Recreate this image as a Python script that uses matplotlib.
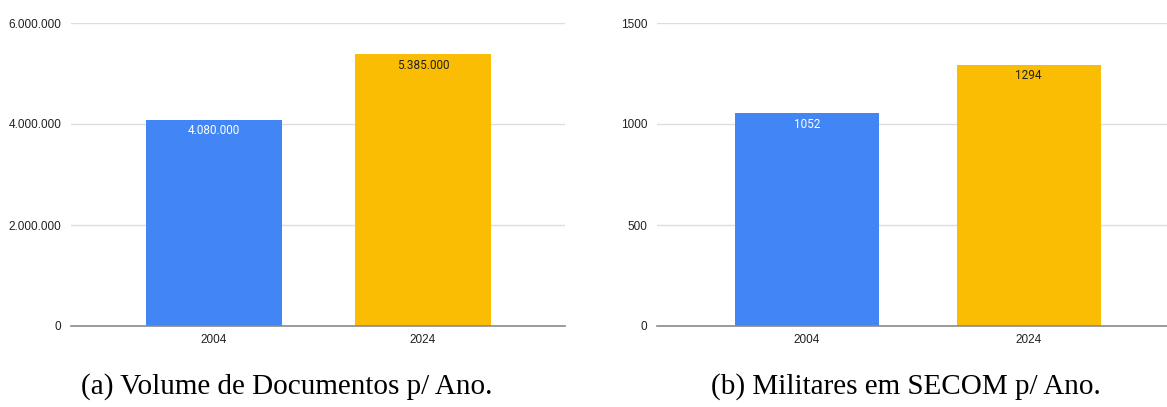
import matplotlib
matplotlib.use('Agg')
import matplotlib.pyplot as plt

# Data for both panels
anos = ['2004', '2024']
documentos = [4080000, 5385000]
militares = [1052, 1294]
cores = ['#4285F4', '#FBBC04']
cores_rotulo = ['white', '#222222']

doc_ticks = [0, 2000000, 4000000, 6000000]
mil_ticks = [0, 500, 1000, 1500]


def fmt_pt(v):
    # thousands separator with dots
    return f"{v:,}".replace(',', '.')


fig = plt.figure(figsize=(11.67, 4.07), dpi=100)
W, H = 1167, 407

# axes positions in pixels (left, right, top, bottom)
ax1 = fig.add_axes([71 / W, 1 - 326 / H, (565 - 71) / W, (326 - 23) / H])
ax2 = fig.add_axes([657 / W, 1 - 326 / H, (1167 - 657) / W, (326 - 23) / H])


def desenha(ax, valores, ticks, xlim, rotulo):
    x = range(len(anos))
    bars = ax.bar(x, valores, width=0.65, color=cores, zorder=3)
    ax.set_xlim(*xlim)
    ax.set_ylim(ticks[0], ticks[-1])
    ax.set_yticks(ticks)
    ax.set_yticklabels([rotulo(t) for t in ticks])
    ax.set_xticks(list(x))
    ax.set_xticklabels(anos)
    ax.grid(axis='y', color='#dddddd', linewidth=1, zorder=0)
    for s in ['top', 'right', 'left']:
        ax.spines[s].set_visible(False)
    ax.spines['bottom'].set_color('#8a8a8a')
    ax.spines['bottom'].set_linewidth(1.2)
    ax.spines['bottom'].set_zorder(4)
    ax.tick_params(axis='both', length=0, labelsize=8.5, labelcolor='#222222')
    ax.tick_params(axis='y', pad=7)
    ax.tick_params(axis='x', pad=6)
    for t in ax.get_xticklabels() + ax.get_yticklabels():
        t.set_fontfamily('Liberation Sans')
    for b, v, c in zip(bars, valores, cores_rotulo):
        ax.annotate(rotulo(v), (b.get_x() + b.get_width() / 2, v),
                    xytext=(0, -11), textcoords='offset pixels',
                    ha='center', va='center', fontsize=8.5, color=c,
                    fontfamily='Roboto', zorder=5)


desenha(ax1, documentos, doc_ticks, (-0.684, 1.679), fmt_pt)
desenha(ax2, militares, mil_ticks, (-0.677, 1.625), lambda v: str(v))

fig.text(287 / W, 1 - 387 / H, '(a) Volume de Documentos p/ Ano.',
         ha='center', va='center', fontsize=21, fontfamily='Liberation Serif')
fig.text(906 / W, 1 - 387 / H, '(b) Militares em SECOM p/ Ano.',
         ha='center', va='center', fontsize=21, fontfamily='Liberation Serif')

fig.savefig('out.png', dpi=100)
